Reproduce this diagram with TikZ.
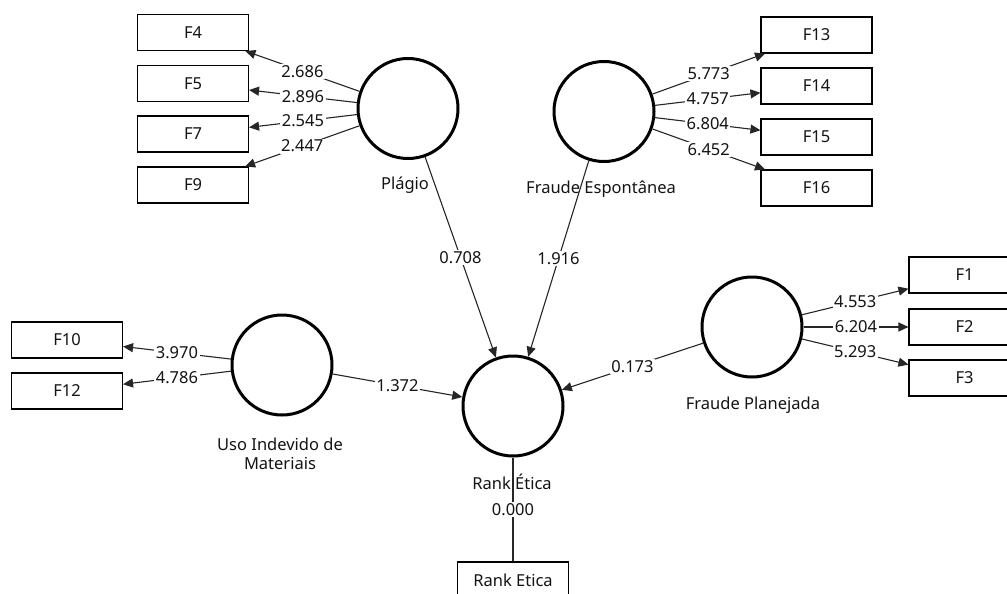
\documentclass[tikz,border=0pt]{standalone}
\usepackage{fontspec}
\setmainfont{Noto Sans}
\usetikzlibrary{arrows.meta}
\begin{document}
\begin{tikzpicture}[x=1pt,y=-1pt,
  every node/.style={font=\fontsize{16.5}{19}\selectfont, text=black!92},
  latent/.style={circle, draw=black, line width=3pt, minimum size=100pt, inner sep=0pt},
  indicator/.style={rectangle, draw=black, line width=1.1pt, minimum width=111pt, minimum height=36pt, inner sep=0pt},
  link/.style={draw=black!85, line width=1.1pt, -{Triangle[length=10pt,width=9pt]}},
  plainlink/.style={draw=black!85, line width=1.1pt},
  weight/.style={fill=white, inner sep=1.5pt, pos=0.5},
  caption/.style={align=center, inner sep=0pt},
]
\clip (0,0) rectangle (1007,594);
\fill[white] (0,0) rectangle (1007,594);

% latent variables
\node[latent] (plag) at (408,108.5) {};
\node[latent] (fesp) at (604,111.5) {};
\node[latent] (fplan) at (752,327) {};
\node[latent] (uso) at (282,365) {};
\node[latent] (rank) at (513,406) {};

% their captions
\node[caption] (plagcap) at (405,185) {Plágio};
\node[caption] (fespcap) at (601,189) {Fraude Espontânea};
\node[caption] (fplancap) at (753,405) {Fraude Planejada};
\node[caption] (usocap) at (280,454) {Uso Indevido de\\Materiais};
\node[caption] (rankcap) at (512,482) {Rank Ética};

% indicators
\node[indicator] (f4) at (193,32.5) {F4};
\node[indicator] (f5) at (193,83.5) {F5};
\node[indicator] (f7) at (193,134) {F7};
\node[indicator] (f9) at (193,185) {F9};
\node[indicator] (f13) at (816.5,35) {F13};
\node[indicator] (f14) at (816.5,86) {F14};
\node[indicator] (f15) at (816.5,137) {F15};
\node[indicator] (f16) at (816.5,188) {F16};
\node[indicator] (f1) at (964.5,275) {F1};
\node[indicator] (f2) at (964.5,327) {F2};
\node[indicator] (f3) at (964.5,378) {F3};
\node[indicator] (f10) at (67,340) {F10};
\node[indicator] (f12) at (67,391) {F12};
\node[indicator] (rankbox) at (513,580) {Rank Etica};

% outer loadings
\draw[link] (plag) -- node[weight]{2.686} (f4);
\draw[link] (plag) -- node[weight]{2.896} (f5);
\draw[link] (plag) -- node[weight]{2.545} (f7);
\draw[link] (plag) -- node[weight]{2.447} (f9);
\draw[link] (fesp) -- node[weight]{5.773} (f13);
\draw[link] (fesp) -- node[weight]{4.757} (f14);
\draw[link] (fesp) -- node[weight]{6.804} (f15);
\draw[link] (fesp) -- node[weight]{6.452} (f16);
\draw[link] (fplan) -- node[weight]{4.553} (f1);
\draw[link] (fplan) -- node[weight]{6.204} (f2);
\draw[link] (fplan) -- node[weight]{5.293} (f3);
\draw[link] (uso) -- node[weight]{3.970} (f10);
\draw[link] (uso) -- node[weight]{4.786} (f12);
\draw[plainlink] (rank) -- node[weight]{0.000} (rankbox);

% structural paths
\draw[link] (plag) -- node[weight]{0.708} (rank);
\draw[link] (fesp) -- node[weight]{1.916} (rank);
\draw[link] (uso) -- node[weight]{1.372} (rank);
\draw[link] (fplan) -- node[weight]{0.173} (rank);
\end{tikzpicture}
\end{document}
